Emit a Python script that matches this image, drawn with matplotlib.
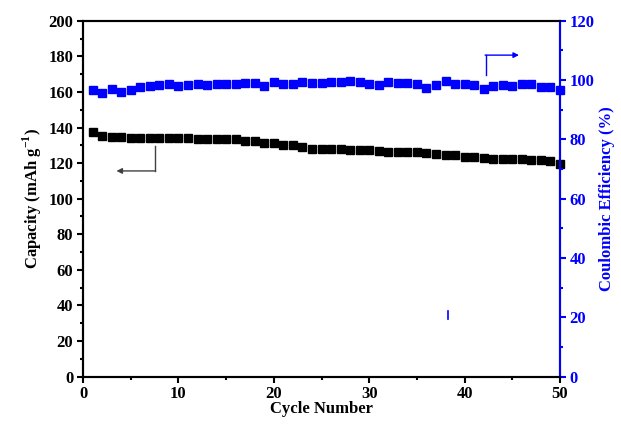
# Capacity and coulombic efficiency vs cycle number

import matplotlib
matplotlib.use('Agg')
import matplotlib.pyplot as plt

plt.rcParams['font.family'] = ['Liberation Serif', 'DejaVu Serif']
plt.rcParams['font.weight'] = 'bold'
plt.rcParams['mathtext.fontset'] = 'custom'
plt.rcParams['mathtext.rm'] = 'Liberation Serif:bold'
plt.rcParams['mathtext.bf'] = 'Liberation Serif:bold'

cycles = list(range(1, 51))
capacity = [137.6, 135.4, 134.8, 134.8, 134.3, 134.3, 134.3, 133.9, 133.9, 133.9,
            133.9, 133.5, 133.5, 133.5, 133.5, 133.5, 132.6, 132.2, 131.5, 131.1,
            130.3, 130.0, 128.9, 128.2, 127.9, 127.9, 127.9, 127.4, 127.4, 127.4,
            126.8, 126.2, 126.2, 126.2, 126.2, 125.7, 124.9, 124.4, 124.3, 123.6,
            123.2, 122.9, 122.5, 122.5, 122.3, 122.1, 121.7, 121.7, 121.3, 119.5]
efficiency = [96.6, 95.8, 96.9, 96.1, 96.6, 97.5, 97.9, 98.2, 98.5, 97.9,
              98.3, 98.8, 98.3, 98.7, 98.6, 98.6, 99.1, 99.1, 97.9, 99.5,
              98.6, 98.5, 99.3, 99.1, 99.1, 99.5, 99.3, 99.6, 99.2, 98.8,
              98.3, 99.4, 99.1, 99.1, 98.5, 97.4, 98.3, 99.6, 98.6, 98.6,
              98.3, 97.0, 97.9, 98.4, 98.0, 98.7, 98.7, 97.5, 97.5, 96.8]

blue = '#0000ff'

fig = plt.figure(figsize=(6.21, 4.28), dpi=100)
ax = fig.add_axes([0.1337, 0.1199, 0.7681, 0.8317])
ax2 = ax.twinx()

ax.plot(cycles, capacity, 's', color='black', ms=5.5, clip_on=False, zorder=3)
ax2.plot(cycles, efficiency, 's', color=blue, ms=5.5, clip_on=False, zorder=3)

ax.set_xlim(0, 50)
ax.set_ylim(0, 200)
ax2.set_ylim(0, 120)
ax.set_xticks(range(0, 51, 10))
ax.set_xticks(range(0, 51, 5), minor=True)
ax.set_yticks(range(0, 201, 20))
ax.set_yticks(range(0, 201, 10), minor=True)
ax2.set_yticks(range(0, 121, 20))
ax2.set_yticks(range(0, 121, 10), minor=True)

for sp in ax.spines.values():
    sp.set_linewidth(1.5)
for sp in ax2.spines.values():
    sp.set_linewidth(1.5)
ax2.spines['right'].set_color(blue)

ax.tick_params(which='major', direction='out', length=4.5, width=1.5, labelsize=12, pad=2.5)
ax.tick_params(which='minor', direction='out', length=2.5, width=1.5)
ax.tick_params(top=False, which='both')
ax2.tick_params(which='major', direction='out', length=4.5, width=1.5, labelsize=12,
                colors=blue, pad=2.5)
ax2.tick_params(which='minor', direction='out', length=2.5, width=1.5, colors=blue)

ax.set_xlabel('Cycle Number', fontsize=12, fontweight='bold', labelpad=-1)
ax.set_ylabel(r'Capacity (mAh g$^{-1}$)', fontsize=12, fontweight='bold', labelpad=3)
ax2.set_ylabel('Coulombic Efficiency (%)', fontsize=12, fontweight='bold', color=blue,
               labelpad=3)

# arrow pointing to the left axis
ax.plot([7.55, 7.55], [129.6, 115.6], color='#404040', lw=1)
ax.annotate('', xy=(3.5, 115.6), xytext=(7.6, 115.6),
            arrowprops=dict(arrowstyle='-|>', color='#404040', lw=1,
                            mutation_scale=8, shrinkA=0, shrinkB=0))
# arrow pointing to the right axis
ax2.plot([42.2, 42.2], [101.7, 108.4], color=blue, lw=1)
ax2.annotate('', xy=(45.7, 108.4), xytext=(42.15, 108.4),
             arrowprops=dict(arrowstyle='-|>', color=blue, lw=1,
                             mutation_scale=8, shrinkA=0, shrinkB=0))
# small stray mark
ax2.plot([38.3, 38.3], [19.4, 22.1], color=blue, lw=1.2)

fig.savefig('out.png', dpi=100)
